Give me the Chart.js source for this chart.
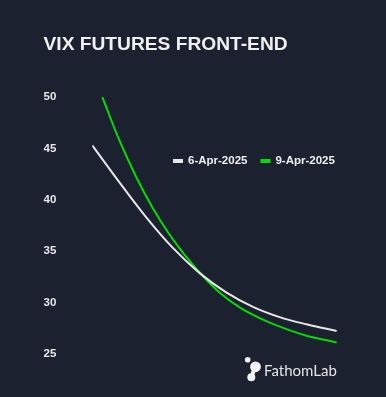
<!DOCTYPE html>
<html lang="en">
<head>
    <meta charset="UTF-8">
    <title>VIX Futures Front-End</title>
    <style>
        body {
            margin: 0;
            background-color: #1c2130;
        }
        .wrap {
            width: 386px;
            height: 397px;
            position: relative;
        }
    </style>
</head>
<body>
    <div class="wrap">
        <canvas id="vixChart"></canvas>
    </div>
    <script src="https://cdn.jsdelivr.net/npm/chart.js"></script>
    <script>
        // days counted from 6-Apr-2025
        const days6Apr = [0, 8, 16, 24, 32, 40, 48, 56, 64, 73];
        const vix6Apr = [45.3, 41.75, 38.35, 35.35, 32.9, 31.0, 29.6, 28.6, 27.9, 27.25];
        const days9Apr = [3, 8, 13, 18, 23, 28, 33, 38, 44, 50, 56, 64, 73];
        const vix9Apr = [50.0, 45.85, 42.3, 39.23, 36.65, 34.47, 32.6, 31.0, 29.54, 28.5, 27.67, 26.79, 26.13];
        const seriesLabels = ['6-Apr-2025', '9-Apr-2025'];
        const yTicks = [25, 30, 35, 40, 45, 50];

        const toPoints = (xs, ys) => xs.map((x, i) => ({ x: x, y: ys[i] }));

        const fontFamily = "'Liberation Sans', Arial, sans-serif";

        // legend sits inside the plot, so draw it by hand
        const innerLegend = {
            id: 'innerLegend',
            afterDraw(chart) {
                const ctx = chart.ctx;
                ctx.save();
                ctx.font = 'bold 11.5px ' + fontFamily;
                ctx.textBaseline = 'middle';
                let x = 173;
                const y = 161;
                chart.data.datasets.forEach(ds => {
                    ctx.fillStyle = ds.borderColor;
                    ctx.fillRect(x, y - 2, 10, 4);
                    x += 15;
                    ctx.fillStyle = '#eeeeee';
                    ctx.fillText(ds.label, x, y);
                    x += ctx.measureText(ds.label).width + 13;
                });
                ctx.restore();
            }
        };

        const logo = {
            id: 'logo',
            afterDraw(chart) {
                const ctx = chart.ctx;
                ctx.save();
                ctx.fillStyle = '#f2f2f2';
                ctx.strokeStyle = '#f2f2f2';
                ctx.lineWidth = 4;
                ctx.beginPath();
                ctx.moveTo(255, 367);
                ctx.lineTo(251.5, 377);
                ctx.stroke();
                [[247.7, 359.8, 2.8], [255.5, 366.8, 5.4], [251.3, 377.3, 4]].forEach(c => {
                    ctx.beginPath();
                    ctx.arc(c[0], c[1], c[2], 0, Math.PI * 2);
                    ctx.fill();
                });
                ctx.fillStyle = '#e4e4e4';
                ctx.font = '15px Lato, sans-serif';
                ctx.textBaseline = 'alphabetic';
                ctx.fillText('FathomLab', 264, 375.5);
                ctx.restore();
            }
        };

        document.addEventListener('DOMContentLoaded', function() {
            const ctx = document.getElementById('vixChart').getContext('2d');

            new Chart(ctx, {
                type: 'line',
                data: {
                    datasets: [{
                        label: seriesLabels[0],
                        data: toPoints(days6Apr, vix6Apr),
                        borderColor: '#e6e6e6',
                        backgroundColor: '#e6e6e6',
                        borderWidth: 2,
                        pointRadius: 0,
                        cubicInterpolationMode: 'monotone'
                    }, {
                        label: seriesLabels[1],
                        data: toPoints(days9Apr, vix9Apr),
                        borderColor: '#00dd00',
                        backgroundColor: '#00dd00',
                        borderWidth: 2,
                        pointRadius: 0,
                        cubicInterpolationMode: 'monotone'
                    }]
                },
                options: {
                    responsive: true,
                    maintainAspectRatio: false,
                    animation: false,
                    layout: {
                        padding: { left: 43.5, right: 41, top: 20, bottom: 40 }
                    },
                    plugins: {
                        legend: { display: false },
                        tooltip: { enabled: false },
                        title: {
                            display: true,
                            text: 'VIX FUTURES FRONT-END',
                            align: 'start',
                            color: '#f0f0f0',
                            font: { family: fontFamily, size: 19.2, weight: 'bold' },
                            padding: { top: 13.5, bottom: 40.5 }
                        }
                    },
                    scales: {
                        x: {
                            type: 'linear',
                            display: false,
                            min: 0,
                            max: 75.5
                        },
                        y: {
                            min: yTicks[0],
                            max: yTicks[yTicks.length - 1],
                            border: { display: false },
                            grid: { display: false, drawTicks: false },
                            afterBuildTicks: axis => {
                                axis.ticks = yTicks.map(v => ({ value: v }));
                            },
                            afterFit: axis => {
                                axis.width = 48.8;
                            },
                            ticks: {
                                padding: 36,
                                color: '#e8e8e8',
                                font: { family: fontFamily, size: 11.5, weight: 'bold' }
                            }
                        }
                    }
                },
                plugins: [innerLegend, logo]
            });
        });
    </script>
</body>
</html>
